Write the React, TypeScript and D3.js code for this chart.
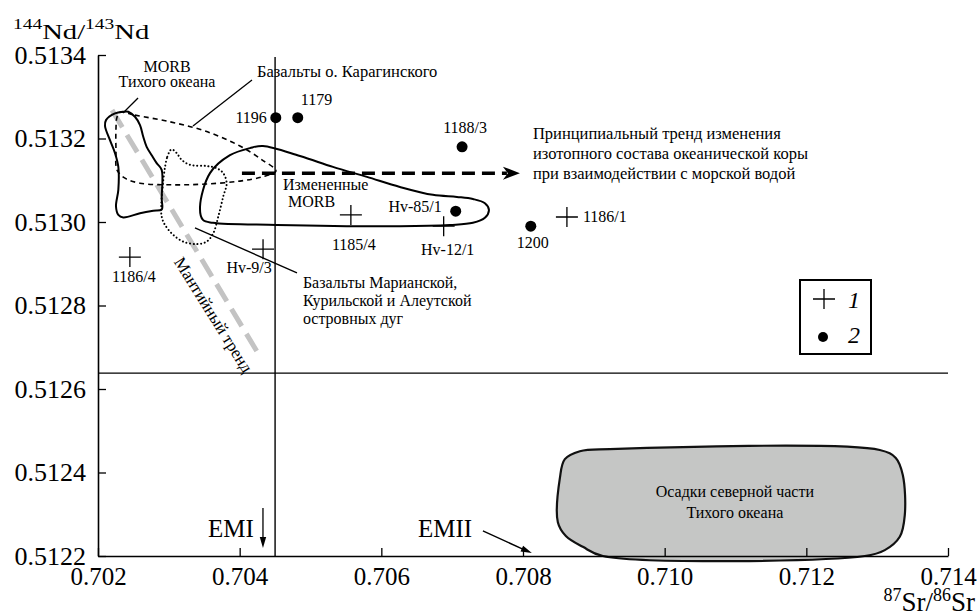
import React from 'react';
import * as d3 from 'd3';

const srTicks = [0.702, 0.704, 0.706, 0.708, 0.71, 0.712, 0.714];
const ndTicks = [0.5122, 0.5124, 0.5126, 0.5128, 0.513, 0.5132, 0.5134];

// 1 - crosses
const crossNames = ['1186/4', 'Hv-9/3', '1185/4', 'Hv-12/1', '1186/1'];
const crossSr = [0.70245, 0.70433, 0.70557, 0.70688, 0.70862];
const crossNd = [0.512916, 0.512935, 0.513017, 0.51299, 0.513012];

// 2 - dots
const dotNames = ['1196', '1179', '1188/3', 'Hv-85/1', '1200'];
const dotSr = [0.70451, 0.70482, 0.70714, 0.70705, 0.70811];
const dotNd = [0.51325, 0.51325, 0.51318, 0.513026, 0.51299];

// label placement: [dx, dy, anchor]
const labelPos: Record<string, [number, number, string]> = {
  '1186/4': [4, 25, 'middle'],
  'Hv-9/3': [-14, 24, 'middle'],
  '1185/4': [3, 35, 'middle'],
  'Hv-12/1': [4, 29, 'middle'],
  '1186/1': [16, 5, 'start'],
  '1196': [-9, 5, 'end'],
  '1179': [3, -13, 'start'],
  '1188/3': [3, -14, 'middle'],
  'Hv-85/1': [-14, 1, 'end'],
  '1200': [2, 22, 'middle'],
};

// fields [Sr, Nd]
const morbPacific = [
  [0.702357, 0.513264], [0.70224, 0.51326], [0.702113, 0.513244], [0.702099, 0.51323],
  [0.702169, 0.513196], [0.70224, 0.513165], [0.702287, 0.513132], [0.702287, 0.513077],
  [0.702254, 0.513037], [0.702287, 0.513017], [0.702357, 0.513011], [0.702593, 0.513021],
  [0.70278, 0.513027], [0.702899, 0.51303], [0.702899, 0.513057], [0.702899, 0.513125],
  [0.702828, 0.513141], [0.702758, 0.51316], [0.702687, 0.51318], [0.702639, 0.513204],
  [0.702593, 0.513232], [0.702522, 0.513252], [0.702428, 0.513264],
];

const karaginsky = [
  [0.702311, 0.513263], [0.702522, 0.513256], [0.703016, 0.51324], [0.70351, 0.513218],
  [0.704004, 0.513182], [0.704315, 0.513149], [0.704512, 0.513122], [0.704315, 0.513108],
  [0.704004, 0.513098], [0.703524, 0.513091], [0.703059, 0.513089], [0.702593, 0.513093],
  [0.702381, 0.513105], [0.702268, 0.513125], [0.702254, 0.513172], [0.702254, 0.513225],
  [0.702268, 0.513251],
];

const alteredMorb = [
  [0.70344, 0.513036], [0.703581, 0.513117], [0.703863, 0.51316], [0.704145, 0.513177],
  [0.704329, 0.513182], [0.704851, 0.513158], [0.705317, 0.513132], [0.705797, 0.513108],
  [0.706262, 0.513084], [0.706728, 0.513065], [0.707067, 0.51306], [0.707293, 0.513055],
  [0.707462, 0.513045], [0.707519, 0.513029], [0.707462, 0.51301], [0.707293, 0.512998],
  [0.706968, 0.512993], [0.706262, 0.51299], [0.704526, 0.512993], [0.703623, 0.512998],
  [0.703482, 0.513005],
];

const islandArcs = [
  [0.702899, 0.513057], [0.702978, 0.513156], [0.70304, 0.513174], [0.703111, 0.513165],
  [0.703181, 0.513149], [0.703298, 0.513137], [0.703534, 0.513134], [0.703675, 0.513129],
  [0.703768, 0.513117], [0.703816, 0.513093], [0.703768, 0.513061], [0.703698, 0.513013],
  [0.703627, 0.512973], [0.703534, 0.512953], [0.703393, 0.512947], [0.703204, 0.512953],
  [0.703063, 0.512969], [0.702946, 0.512993], [0.702899, 0.513013],
];

const sediments = [
  [0.708521, 0.512387], [0.708591, 0.512432], [0.708803, 0.512451], [0.709226, 0.512456],
  [0.713037, 0.512454], [0.713263, 0.512435], [0.713362, 0.512394], [0.71339, 0.512298],
  [0.713319, 0.512246], [0.713108, 0.512214], [0.712825, 0.5122], [0.709128, 0.5122],
  [0.708845, 0.512222], [0.708605, 0.512248], [0.708492, 0.512281],
];

const mantleTrend = [[0.702198, 0.513268], [0.704258, 0.512686]];
const seawaterTrend = [[0.704032, 0.513117], [0.707914, 0.513117]];

const W = 977;
const H = 614;
const FONT = '"Liberation Serif", "Times New Roman", serif';

const App = () => {
  const ref = React.useRef<SVGSVGElement>(null);

  React.useEffect(() => {
    const svg = d3.select(ref.current);
    svg.selectAll('*').remove();
    svg.attr('font-family', FONT);

    const x = d3.scaleLinear().domain([0.702, 0.714]).range([98, 948]);
    const y = d3.scaleLinear().domain([0.5122, 0.5134]).range([556, 55]);

    const closed = d3.line<number[]>()
      .x(d => x(d[0]))
      .y(d => y(d[1]))
      .curve(d3.curveCatmullRomClosed.alpha(0.5));
    const straight = d3.line<number[]>().x(d => x(d[0])).y(d => y(d[1]));

    const arrowHead = (x1, y1, x2, y2, len, half, notch = 0) => {
      const a = Math.atan2(y2 - y1, x2 - x1);
      const c = Math.cos(a), s = Math.sin(a);
      const bx = x2 - len * c, by = y2 - len * s;
      const nx = x2 - (len - notch) * c, ny = y2 - (len - notch) * s;
      svg.append('path')
        .attr('d', `M${x2},${y2}L${bx - half * s},${by + half * c}L${nx},${ny}L${bx + half * s},${by - half * c}Z`)
        .attr('fill', '#000');
    };

    // reference lines
    svg.append('line')
      .attr('x1', x(0.7045)).attr('x2', x(0.7045))
      .attr('y1', y(0.5134) + 2).attr('y2', y(0.5122))
      .attr('stroke', '#000').attr('stroke-width', 1.4);
    svg.append('line')
      .attr('x1', x(0.702)).attr('x2', x(0.714))
      .attr('y1', y(0.512638)).attr('y2', y(0.512638))
      .attr('stroke', '#000').attr('stroke-width', 1.4);

    // sediment field
    svg.append('path').attr('d', closed(sediments))
      .attr('fill', '#c5c6c5').attr('stroke', '#111').attr('stroke-width', 2.2);
    svg.append('text').attr('x', x(0.710991)).attr('y', y(0.512341))
      .attr('text-anchor', 'middle').attr('font-size', 16).text('Осадки северной части');
    svg.append('text').attr('x', x(0.710991)).attr('y', y(0.512291))
      .attr('text-anchor', 'middle').attr('font-size', 16).text('Тихого океана');

    // mantle trend
    svg.append('path').attr('d', straight(mantleTrend))
      .attr('fill', 'none').attr('stroke', '#c3c3c3').attr('stroke-width', 5)
      .attr('stroke-dasharray', '20,9');
    svg.append('text')
      .attr('transform', `translate(${x(0.703065)},${y(0.512905)}) rotate(58)`)
      .attr('font-size', 17).text('Мантийный тренд');

    // fields
    svg.append('path').attr('d', closed(islandArcs))
      .attr('fill', 'none').attr('stroke', '#000').attr('stroke-width', 2)
      .attr('stroke-linecap', 'round').attr('stroke-dasharray', '0.1,3.6');
    svg.append('path').attr('d', closed(karaginsky))
      .attr('fill', 'none').attr('stroke', '#000').attr('stroke-width', 1.6)
      .attr('stroke-dasharray', '5,4');
    svg.append('path').attr('d', closed(morbPacific))
      .attr('fill', 'none').attr('stroke', '#000').attr('stroke-width', 2);
    svg.append('path').attr('d', closed(alteredMorb))
      .attr('fill', 'none').attr('stroke', '#000').attr('stroke-width', 2);

    // seawater alteration trend
    const [s0, s1] = seawaterTrend;
    svg.append('line')
      .attr('x1', x(s0[0])).attr('x2', x(s1[0]) - 10)
      .attr('y1', y(s0[1])).attr('y2', y(s1[1]))
      .attr('stroke', '#000').attr('stroke-width', 3.5).attr('stroke-dasharray', '13,7');
    arrowHead(x(s0[0]), y(s0[1]), x(s1[0]) + 3, y(s1[1]), 17, 6.5, 5);

    // leader lines
    const leaders = [
      [[0.702565, 0.513297], [0.702353, 0.513261]],
      [[0.704174, 0.51334], [0.703341, 0.51323]],
      [[0.704809, 0.512878], [0.703369, 0.512986]],
    ];
    leaders.forEach(l => {
      svg.append('path').attr('d', straight(l))
        .attr('fill', 'none').attr('stroke', '#000').attr('stroke-width', 1.3);
    });

    const note = (sr, nd, lines, anchor = 'start', size = 16, lh = 18) => {
      const t = svg.append('text').attr('x', x(sr)).attr('y', y(nd))
        .attr('text-anchor', anchor).attr('font-size', size);
      lines.forEach((s, i) => {
        t.append('tspan').attr('x', x(sr)).attr('dy', i === 0 ? 0 : lh).text(s);
      });
    };
    note(0.702974, 0.513359, ['MORB', 'Тихого океана'], 'middle', 16, 15);
    note(0.704244, 0.513347, ['Базальты о. Карагинского'], 'start', 16.5);
    note(0.704611, 0.513077, ['Измененные']);
    note(0.704682, 0.513036, ['MORB']);
    note(0.704893, 0.512842, ['Базальты Марианской,', 'Курильской и Алеутской', 'островных дуг'], 'start', 16, 18);
    note(0.70814, 0.513199, ['Принципиальный тренд изменения', 'изотопного состава океанической коры', 'при взаимодействии с морской водой'], 'start', 16.5, 20);

    // EM labels
    svg.append('text').attr('x', x(0.703553)).attr('y', y(0.512246))
      .attr('font-size', 25).text('EMI');
    svg.append('line')
      .attr('x1', x(0.704329)).attr('x2', x(0.704329))
      .attr('y1', y(0.512315)).attr('y2', y(0.512219) - 8)
      .attr('stroke', '#000').attr('stroke-width', 1.3);
    arrowHead(x(0.704329), y(0.512315), x(0.704329), y(0.512219), 11, 3.2);
    svg.append('text').attr('x', x(0.706516)).attr('y', y(0.512246))
      .attr('font-size', 25).text('EMII');
    svg.append('line')
      .attr('x1', x(0.707434)).attr('y1', y(0.51226))
      .attr('x2', x(0.708125) - 8).attr('y2', y(0.512207) - 3.5)
      .attr('stroke', '#000').attr('stroke-width', 1.4);
    arrowHead(x(0.707434), y(0.51226), x(0.708125), y(0.512207), 11, 3.2);

    // samples
    crossSr.forEach((v, i) => {
      const cx = x(v), cy = y(crossNd[i]);
      svg.append('path').attr('d', `M${cx - 11},${cy}H${cx + 11}M${cx},${cy - 10}V${cy + 10}`)
        .attr('stroke', '#000').attr('stroke-width', 1.3);
      const [dx, dy, anchor] = labelPos[crossNames[i]];
      svg.append('text').attr('x', cx + dx).attr('y', cy + dy)
        .attr('text-anchor', anchor).attr('font-size', 16).text(crossNames[i]);
    });
    dotSr.forEach((v, i) => {
      const cx = x(v), cy = y(dotNd[i]);
      svg.append('circle').attr('cx', cx).attr('cy', cy).attr('r', 5.5).attr('fill', '#000');
      const [dx, dy, anchor] = labelPos[dotNames[i]];
      svg.append('text').attr('x', cx + dx).attr('y', cy + dy)
        .attr('text-anchor', anchor).attr('font-size', 16).text(dotNames[i]);
    });

    // axes
    const gx = svg.append('g').attr('transform', `translate(0,${y(0.5122)})`)
      .call(d3.axisBottom(x).tickValues(srTicks).tickSizeInner(-8).tickSizeOuter(0)
        .tickPadding(11).tickFormat(d3.format('.3f')));
    const gy = svg.append('g').attr('transform', `translate(${x(0.702)},0)`)
      .call(d3.axisLeft(y).tickValues(ndTicks).tickSizeInner(-8).tickSizeOuter(0)
        .tickPadding(12).tickFormat(d3.format('.4f')));
    [gx, gy].forEach(g => {
      g.attr('font-family', FONT).attr('font-size', 26);
      g.select('.domain').attr('stroke-width', 1.6);
      g.selectAll('.tick line').attr('stroke-width', 1.3);
      g.selectAll('.tick text').attr('fill', '#000');
    });
    gx.attr('font-size', 25);

    // axis titles
    const ty = svg.append('text').attr('transform', 'translate(13,39) scale(1.3,1)').attr('font-size', 22);
    ty.append('tspan').attr('font-size', 15).attr('dy', -10).text('144');
    ty.append('tspan').attr('dy', 10).text('Nd/');
    ty.append('tspan').attr('font-size', 15).attr('dy', -10).text('143');
    ty.append('tspan').attr('dy', 10).text('Nd');

    const tx = svg.append('text').attr('x', 975).attr('y', 611)
      .attr('text-anchor', 'end').attr('font-size', 27);
    tx.append('tspan').attr('font-size', 18).attr('dy', -10).text('87');
    tx.append('tspan').attr('dy', 10).text('Sr/');
    tx.append('tspan').attr('font-size', 18).attr('dy', -10).text('86');
    tx.append('tspan').attr('dy', 10).text('Sr');

    // legend
    const lg = svg.append('g').attr('transform', 'translate(800,280)');
    lg.append('rect').attr('width', 71).attr('height', 74)
      .attr('fill', '#fff').attr('stroke', '#000').attr('stroke-width', 2);
    lg.append('path').attr('d', 'M13,19H35M24,9V29').attr('stroke', '#000').attr('stroke-width', 1.3);
    lg.append('circle').attr('cx', 23).attr('cy', 57).attr('r', 5).attr('fill', '#000');
    lg.append('text').attr('x', 48).attr('y', 28).attr('font-size', 24).attr('font-style', 'italic').text('1');
    lg.append('text').attr('x', 48).attr('y', 63).attr('font-size', 24).attr('font-style', 'italic').text('2');
  }, []);

  return (
    <svg ref={ref} width={W} height={H}
      style={{ position: 'absolute', left: 0, top: 0, background: '#fff' }} />
  );
};

export default App;
